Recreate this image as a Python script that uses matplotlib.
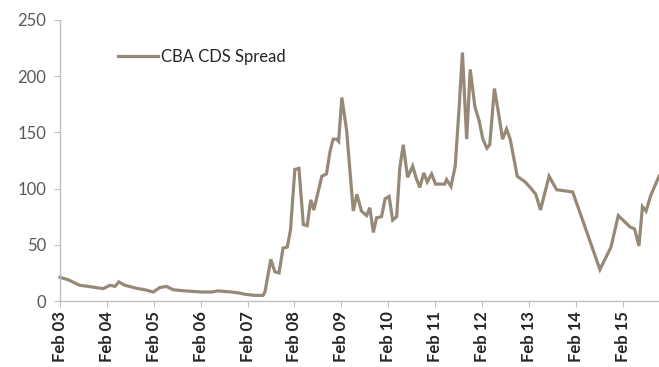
import matplotlib
matplotlib.use("Agg")
import matplotlib.pyplot as plt
import matplotlib.dates as mdates
import pandas as pd

# CBA 5y CDS spread (bp)
dates = [
    "2003-02-01", "2003-04-04", "2003-07-04", "2003-09-07", "2004-01-04",
    "2004-02-25", "2004-04-04", "2004-05-04", "2004-06-19", "2004-10-01",
    "2004-11-22", "2005-01-28", "2005-03-19", "2005-05-10", "2005-07-01",
    "2005-10-01", "2006-02-10", "2006-04-25", "2006-06-16", "2006-09-28",
    "2006-12-04", "2007-01-10", "2007-03-28", "2007-06-01", "2007-06-16",
    "2007-08-01", "2007-09-01", "2007-10-04", "2007-11-04", "2007-12-07",
    "2008-01-01", "2008-02-04", "2008-03-07", "2008-04-10", "2008-05-10",
    "2008-06-07", "2008-07-01", "2008-09-01", "2008-10-07", "2008-11-04",
    "2008-11-28", "2008-12-25", "2009-01-10", "2009-02-04", "2009-03-13",
    "2009-05-04", "2009-06-01", "2009-07-07", "2009-08-16", "2009-09-10",
    "2009-10-07", "2009-11-01", "2009-12-10", "2010-01-07", "2010-02-07",
    "2010-03-07", "2010-04-07", "2010-05-01", "2010-05-28", "2010-07-01",
    "2010-08-10", "2010-09-04", "2010-10-04", "2010-11-04", "2010-12-01",
    "2011-01-04", "2011-02-04", "2011-03-10", "2011-04-16", "2011-05-01",
    "2011-06-04", "2011-07-07", "2011-08-07", "2011-09-01", "2011-10-04",
    "2011-11-01", "2011-12-07", "2012-01-10", "2012-02-07", "2012-03-10",
    "2012-04-01", "2012-05-07", "2012-06-07", "2012-07-10", "2012-08-10",
    "2012-09-07", "2012-11-01", "2013-01-01", "2013-02-10", "2013-03-25",
    "2013-05-01", "2013-07-07", "2013-09-04", "2014-01-07", "2014-08-07",
    "2014-11-01", "2014-12-28", "2015-03-28", "2015-05-04", "2015-06-07",
    "2015-07-04", "2015-08-01", "2015-09-07", "2015-11-10",
]
spread = [
    21, 19, 14, 13, 11,
    14, 13, 17, 14, 11,
    10, 8, 12, 13, 10,
    9, 8, 8, 9, 8,
    7, 6, 5, 5, 8,
    37, 26, 25, 47, 48,
    63, 117, 118, 68, 67,
    90, 81, 111, 113, 133,
    144, 144, 142, 181, 152,
    80, 95, 80, 76, 83,
    61, 74, 75, 91, 93,
    72, 75, 118, 139, 110,
    120, 110, 101, 114, 106,
    113, 104, 104, 104, 108,
    102, 120, 173, 221, 144,
    206, 173, 160, 144, 136,
    139, 189, 168, 144, 153,
    144, 111, 106, 101, 95,
    81, 111, 99, 97, 28,
    48, 76, 66, 64, 49,
    84, 80, 94, 111,
]
series_label = "CBA CDS Spread"
y_ticks = [0, 50, 100, 150, 200, 250]

LINE_COLOR = "#968977"
AXIS_COLOR = "#bfbfbf"

plt.rcParams["font.family"] = ["Lato", "DejaVu Sans"]

x = pd.to_datetime(dates)

fig = plt.figure(figsize=(6.59, 3.67), dpi=100)
ax = fig.add_axes((60 / 659, 66 / 367, 599 / 659, 281 / 367))

ax.plot(x, spread, color=LINE_COLOR, linewidth=2.3, label=series_label,
        solid_joinstyle="miter", clip_on=False)

ax.set_xlim(pd.Timestamp("2003-02-01"), pd.Timestamp("2015-11-10"))
ax.set_ylim(0, 250)
ax.set_yticks(y_ticks)

ax.xaxis.set_major_locator(mdates.YearLocator(base=1, month=2, day=1))
ax.xaxis.set_major_formatter(mdates.DateFormatter("%b %y"))

for side in ("top", "right"):
    ax.spines[side].set_visible(False)
for side in ("left", "bottom"):
    ax.spines[side].set_color(AXIS_COLOR)
    ax.spines[side].set_linewidth(1.0)

ax.tick_params(axis="y", colors=AXIS_COLOR, labelcolor="#595959",
               labelsize=12, length=4, pad=6)
ax.tick_params(axis="x", colors=AXIS_COLOR, labelcolor="#262626",
               labelsize=12, length=4, pad=3, rotation=90)
for lbl in ax.get_xticklabels():
    lbl.set_fontweight("bold")

ax.legend(loc="center left", bbox_to_anchor=(0.097, 0.868), frameon=False,
          handlelength=2.4, handletextpad=0.15, borderpad=0,
          borderaxespad=0, fontsize=12, labelcolor="#262626")

fig.savefig("out.png", dpi=100)
